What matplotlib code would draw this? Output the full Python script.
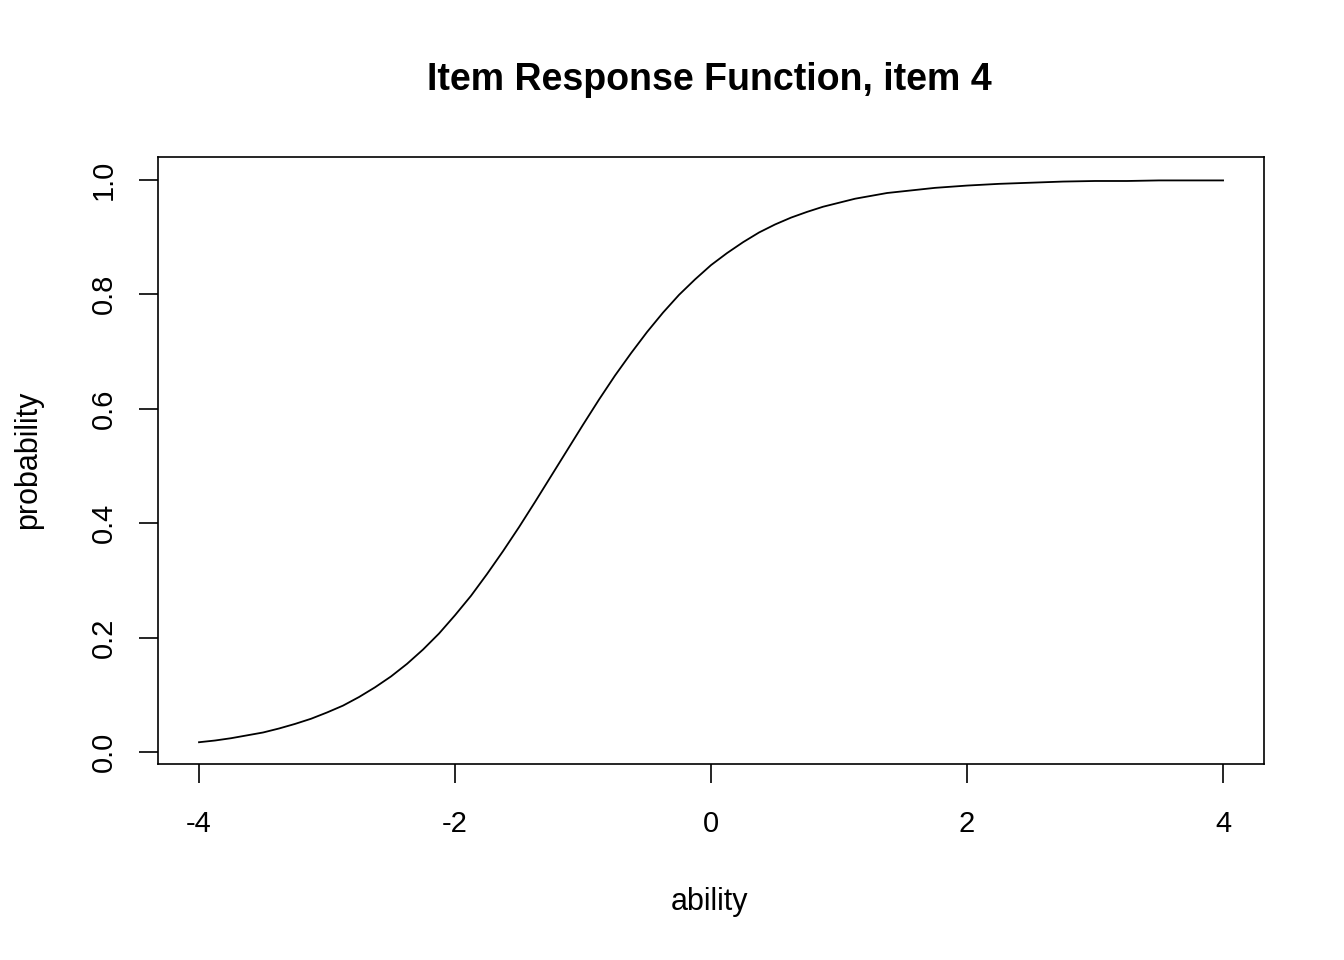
import matplotlib
matplotlib.use("Agg")
import matplotlib.pyplot as plt

# ability grid and item response probabilities
ability = [-4.0, -3.875, -3.75, -3.625, -3.5, -3.375, -3.25, -3.125, -3.0, -2.875,
           -2.75, -2.625, -2.5, -2.375, -2.25, -2.125, -2.0, -1.875, -1.75, -1.625,
           -1.5, -1.375, -1.25, -1.125, -1.0, -0.875, -0.75, -0.625, -0.5, -0.375,
           -0.25, -0.125, 0.0, 0.125, 0.25, 0.375, 0.5, 0.625, 0.75, 0.875, 1.0,
           1.125, 1.25, 1.375, 1.5, 1.625, 1.75, 1.875, 2.0, 2.25, 2.5, 2.75, 3.0,
           3.25, 3.5, 3.75, 4.0]
probability = [0.017, 0.020, 0.024, 0.029, 0.034, 0.041, 0.049, 0.058, 0.069, 0.081,
               0.096, 0.113, 0.132, 0.154, 0.179, 0.207, 0.239, 0.273, 0.311, 0.351,
               0.393, 0.437, 0.482, 0.527, 0.572, 0.616, 0.658, 0.697, 0.734, 0.768,
               0.799, 0.826, 0.851, 0.872, 0.891, 0.908, 0.922, 0.934, 0.944, 0.953,
               0.960, 0.967, 0.972, 0.977, 0.980, 0.983, 0.986, 0.988, 0.990, 0.993,
               0.995, 0.997, 0.998, 0.998, 0.999, 0.999, 0.999]

x_ticks = [-4, -2, 0, 2, 4]
y_ticks = [0.0, 0.2, 0.4, 0.6, 0.8, 1.0]

plt.rcParams["font.family"] = ["Liberation Sans", "DejaVu Sans"]

fig = plt.figure(figsize=(13.44, 9.6), dpi=100)
ax = fig.add_axes([0.1176, 0.2042, 0.8229, 0.6323])
ax.plot(ability, probability, color="black", linewidth=1.3)

ax.set_xlim(-4.32, 4.32)
ax.set_ylim(-0.021, 1.040)
ax.set_xticks(x_ticks)
ax.set_xticklabels([str(t) for t in x_ticks])
ax.set_yticks(y_ticks)
ax.set_yticklabels([f"{t:.1f}" for t in y_ticks], rotation=90, va="center")
ax.tick_params(direction="out", length=14, width=1.2, labelsize=21)
ax.tick_params(axis="x", pad=19)
ax.tick_params(axis="y", pad=15)
for s in ax.spines.values():
    s.set_linewidth(1.2)

fig.text(0.528, 0.917, "Item Response Function, item 4", ha="center", va="center",
         fontsize=27, fontweight="bold")
fig.text(0.528, 0.060, "ability", ha="center", va="center", fontsize=22)
fig.text(0.021, 0.521, "probability", ha="center", va="center", fontsize=22, rotation=90)

fig.savefig("out.png", dpi=100)
